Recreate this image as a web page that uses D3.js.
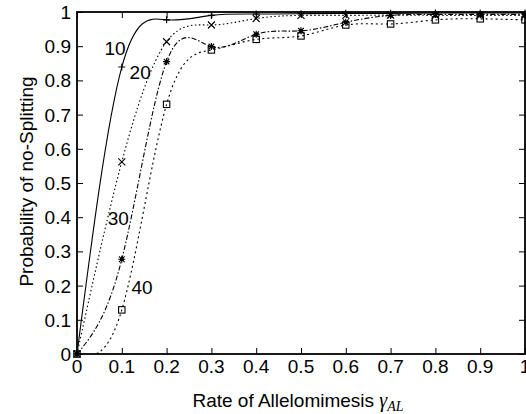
<!DOCTYPE html>
<html>
<head>
<meta charset="utf-8">
<script src="https://cdn.jsdelivr.net/npm/d3@7"></script>
<style>
  html, body { margin: 0; padding: 0; background: #fff; }
  svg { display: block; }
  text { font-family: "Liberation Sans", Arial, Helvetica, sans-serif; fill: #000; }
</style>
</head>
<body>
<script>
// ---- data ----
const xValues = [0, 0.1, 0.2, 0.3, 0.4, 0.5, 0.6, 0.7, 0.8, 0.9, 1.0];
const series10 = [0, 0.839, 0.977, 0.990, 0.994, 0.995, 0.996, 0.996, 0.997, 0.997, 0.997];
const series20 = [0, 0.562, 0.913, 0.962, 0.981, 0.990, 0.990, 0.991, 0.990, 0.990, 0.990];
const series30 = [0, 0.277, 0.855, 0.899, 0.935, 0.945, 0.970, 0.990, 0.993, 0.993, 0.993];
const series40 = [0, 0.129, 0.730, 0.889, 0.920, 0.930, 0.962, 0.965, 0.977, 0.980, 0.977];
const seriesNames = ["10", "20", "30", "40"];
const xTicks = [0, 0.1, 0.2, 0.3, 0.4, 0.5, 0.6, 0.7, 0.8, 0.9, 1];
const xTickLabels = ["0", "0.1", "0.2", "0.3", "0.4", "0.5", "0.6", "0.7", "0.8", "0.9", "1"];
const yTicks = [0, 0.1, 0.2, 0.3, 0.4, 0.5, 0.6, 0.7, 0.8, 0.9, 1];
const yTickLabels = ["0", "0.1", "0.2", "0.3", "0.4", "0.5", "0.6", "0.7", "0.8", "0.9", "1"];
// curve label anchor points (data units)
const labelX = [0.085, 0.141, 0.092, 0.145];
const labelY = [0.895, 0.825, 0.398, 0.196];

const W = 526, H = 414;
const mLeft = 77, mRight = 525, mTop = 12, mBottom = 354;

const svg = d3.select("body").append("svg").attr("width", W).attr("height", H);

const x = d3.scaleLinear().domain([0, 1]).range([mLeft, mRight]);
const y = d3.scaleLinear().domain([0, 1]).range([mBottom, mTop]);

svg.append("defs").append("clipPath").attr("id", "plotclip")
  .append("rect").attr("x", mLeft).attr("y", mTop).attr("width", mRight - mLeft).attr("height", mBottom - mTop);

const FS = 19;

// axes with inward ticks (mirrored)
const xAxis = svg.append("g").attr("transform", `translate(0,${mBottom})`)
  .call(d3.axisTop(x).tickValues(xTicks).tickSize(6).tickFormat(() => ""));
const xAxisTop = svg.append("g").attr("transform", `translate(0,${mTop})`)
  .call(d3.axisBottom(x).tickValues(xTicks).tickSize(6).tickFormat(() => ""));
const yAxis = svg.append("g").attr("transform", `translate(${mLeft},0)`)
  .call(d3.axisRight(y).tickValues(yTicks).tickSize(6).tickFormat(() => ""));
const yAxisRight = svg.append("g").attr("transform", `translate(${mRight},0)`)
  .call(d3.axisLeft(y).tickValues(yTicks).tickSize(6).tickFormat(() => ""));
[xAxis, xAxisTop, yAxis, yAxisRight].forEach(g => {
  g.select(".domain").remove();
  g.selectAll(".tick line").attr("stroke", "#000").attr("stroke-width", 1);
});

// tick labels
svg.append("g").selectAll("text").data(xTicks).join("text")
  .attr("x", d => x(d)).attr("y", 373)
  .attr("text-anchor", "middle").attr("font-size", FS)
  .text((d, i) => xTickLabels[i]);
svg.append("g").selectAll("text").data(yTicks).join("text")
  .attr("x", 71).attr("y", d => y(d) + 7)
  .attr("text-anchor", "end").attr("font-size", FS)
  .text((d, i) => yTickLabels[i]);

// curves
const allSeries = [series10, series20, series30, series40];
const dashes = [null, "1.5,2.5", "5,2,1.5,2", "2,3"];
const line = d3.line().x(d => x(d[0])).y(d => y(d[1])).curve(d3.curveNatural);
const curves = svg.append("g").attr("clip-path", "url(#plotclip)");
allSeries.forEach((s, k) => {
  const pts = xValues.map((v, i) => [v, s[i]]);
  curves.append("path").datum(pts)
    .attr("d", line)
    .attr("fill", "none").attr("stroke", "#000").attr("stroke-width", 1.1)
    .attr("stroke-dasharray", dashes[k]);
});

// markers
const mk = svg.append("g");
function plus(g, cx, cy, r) {
  g.append("path").attr("d", `M${cx - r},${cy}H${cx + r}M${cx},${cy - r}V${cy + r}`)
    .attr("stroke", "#000").attr("stroke-width", 1.1).attr("fill", "none");
}
function cross(g, cx, cy, r) {
  g.append("path").attr("d", `M${cx - r},${cy - r}L${cx + r},${cy + r}M${cx - r},${cy + r}L${cx + r},${cy - r}`)
    .attr("stroke", "#000").attr("stroke-width", 1.1).attr("fill", "none");
}
function star(g, cx, cy, r) {
  plus(g, cx, cy, r); cross(g, cx, cy, r * 0.8);
  g.append("circle").attr("cx", cx).attr("cy", cy).attr("r", 2).attr("fill", "#000");
}
function square(g, cx, cy, r) {
  g.append("rect").attr("x", cx - r).attr("y", cy - r).attr("width", 2 * r).attr("height", 2 * r)
    .attr("stroke", "#000").attr("stroke-width", 1.1).attr("fill", "none");
}
const markerFns = [plus, cross, star, square];
const markerR = [3.5, 3.5, 3.5, 3.2];
allSeries.forEach((s, k) => {
  xValues.forEach((v, i) => markerFns[k](mk, x(v), y(s[i]), markerR[k]));
});

// border
svg.append("rect").attr("x", mLeft).attr("y", mTop).attr("width", mRight - mLeft).attr("height", mBottom - mTop)
  .attr("fill", "none").attr("stroke", "#000").attr("stroke-width", 1.8);

// curve labels
svg.append("g").selectAll("text").data(seriesNames).join("text")
  .attr("x", (d, i) => x(labelX[i])).attr("y", (d, i) => y(labelY[i]) + 7)
  .attr("text-anchor", "middle").attr("font-size", FS)
  .text(d => d);

// axis titles
const xt = svg.append("text").attr("x", 298).attr("y", 407).attr("text-anchor", "middle").attr("font-size", FS);
xt.append("tspan").text("Rate of Allelomimesis ");
xt.append("tspan").attr("font-family", "'Liberation Serif', 'Times New Roman', serif").attr("font-style", "italic").attr("font-size", 20).text("γ");
xt.append("tspan").attr("font-family", "'Liberation Serif', 'Times New Roman', serif").attr("font-style", "italic").attr("font-size", 14).attr("dy", 4).text("AL");

svg.append("text").attr("transform", `translate(33,181.5) rotate(-90)`)
  .attr("text-anchor", "middle").attr("font-size", FS)
  .text("Probability of no-Splitting");
</script>
</body>
</html>
